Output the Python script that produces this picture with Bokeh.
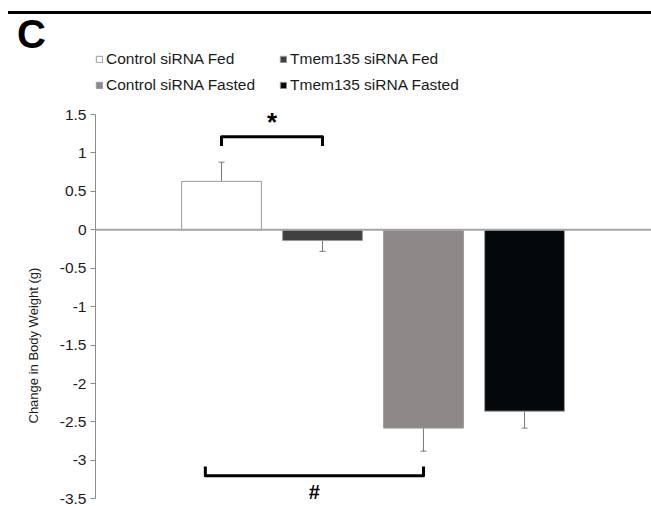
from bokeh.plotting import figure
from bokeh.layouts import column
from bokeh.models import (Range1d, FixedTicker, Whisker, TeeHead, ColumnDataSource,
                          Span, Legend, LegendItem, Title, Div)
from bokeh.embed import file_html
from bokeh.resources import INLINE
from bokeh.core.properties import value

# ---- data ----
groups = ["Control siRNA Fed", "Tmem135 siRNA Fed", "Control siRNA Fasted", "Tmem135 siRNA Fasted"]
means = [0.63, -0.14, -2.58, -2.36]
errors = [0.25, 0.14, 0.30, 0.22]
colors = ["#ffffff", "#404040", "#8d8989", "#05080b"]
ytick_values = [-3.5, -3, -2.5, -2, -1.5, -1, -0.5, 0, 0.5, 1, 1.5]
ytick_labels = ["-3.5", "-3", "-2.5", "-2", "-1.5", "-1", "-0.5", "0", "0.5", "1", "1.5"]
y_label = "Change in Body Weight (g)"
panel_letter = "C"
# significance brackets: (x start, x end) in group positions, level, drop
star_span = (1, 2)
star_level = 1.21
star_drop = 0.12
hash_span = (0.84, 3)
hash_level = -3.20
hash_drop = -0.12

FONT = "Liberation Sans"
TXT = "#1a1a1a"
positions = [i + 1 for i in range(len(groups))]

# ---------------- header: rule + panel letter ----------------
HEAD_H = 48
header_html = (
    '<div style="width:643px;height:2.5px;background:#000;margin:11px 0 0 8px;"></div>'
    '<div style="font-family:\'Liberation Sans\',Arial,sans-serif;font-weight:bold;'
    'font-size:40px;line-height:40px;margin:0 0 0 17px;color:#000;">'
    + panel_letter + '</div>'
)
head = Div(text=header_html, width=651, height=HEAD_H, margin=0,
           styles={"padding": "0", "margin": "0"})

# ---------------- main chart ----------------
MAIN_H = 506 - HEAD_H
p = figure(width=651, height=MAIN_H, output_backend="svg", toolbar_location=None,
           x_range=Range1d(-0.2475, 5.257), y_range=Range1d(-3.600, 2.359),
           min_border_left=95, min_border_right=0, min_border_top=0, min_border_bottom=0)
p.outline_line_color = None
p.grid.visible = False
p.xaxis.visible = False

ya = p.yaxis[0]
ya.bounds = (ytick_values[0], ytick_values[-1])
ya.ticker = FixedTicker(ticks=ytick_values)
ya.major_label_overrides = {v: s for v, s in zip(ytick_values, ytick_labels)}
ya.minor_tick_line_color = None
ya.major_tick_in = 0
ya.major_tick_out = 5
ya.axis_line_color = "#8a8a8a"
ya.major_tick_line_color = "#8a8a8a"
ya.major_label_text_font = FONT
ya.major_label_text_font_size = "15.5px"
ya.major_label_text_color = TXT
ya.major_label_standoff = 4

p.add_layout(Title(text=y_label, align="left", offset=83, standoff=32,
                   text_font=FONT, text_font_size="13px", text_font_style="normal",
                   text_color=TXT), "left")

src = ColumnDataSource(dict(x=positions, top=means, color=colors,
                            upper=[m + e for m, e in zip(means, errors)],
                            lower=[m - e for m, e in zip(means, errors)]))
bars = p.vbar(x="x", top="top", bottom=0, width=0.79, fill_color="color",
              line_color="#9a9a9a", line_width=1, source=src)

p.add_layout(Span(location=0, dimension="width", line_color="#a6a6a6", line_width=2))

wh = Whisker(base="x", upper="upper", lower="lower", source=src,
             line_color="#7a7a7a", line_width=1,
             upper_head=TeeHead(size=6, line_color="#7a7a7a", line_width=1),
             lower_head=TeeHead(size=6, line_color="#7a7a7a", line_width=1))
p.add_layout(wh)

# brackets
for (x0, x1), lvl, drop in [(star_span, star_level, star_drop), (hash_span, hash_level, hash_drop)]:
    p.line(x=[x0, x0, x1, x1], y=[lvl - drop, lvl, lvl, lvl - drop],
           line_color="black", line_width=3, line_join="round")
p.text(x=[(star_span[0] + star_span[1]) / 2], y=[star_level], y_offset=0, text=["*"],
       text_align="center", text_baseline="bottom", text_font=value(FONT),
       text_font_size="26px", text_font_style="bold", text_color="black")
p.text(x=[(hash_span[0] + hash_span[1]) / 2], y=[hash_level - 0.07], text=["#"],
       text_align="center", text_baseline="top", text_font=value(FONT),
       text_font_size="20px", text_font_style="bold", text_color="black")

# legend (two columns, row-major like the reference)
items = [LegendItem(label=g, renderers=[bars], index=i) for i, g in enumerate(groups)]
legend = Legend(items=items, location=(0, 411), orientation="horizontal", ncols=2,
                glyph_width=8, glyph_height=8, label_standoff=3, label_width=167,
                label_height=20, spacing=6, padding=0, margin=0,
                border_line_alpha=0, background_fill_alpha=0,
                label_text_font=FONT, label_text_font_size="15.5px",
                label_text_color=TXT)
p.add_layout(legend)

layout = column(head, p, spacing=0)
open("out.html", "w").write(file_html(layout, INLINE))
